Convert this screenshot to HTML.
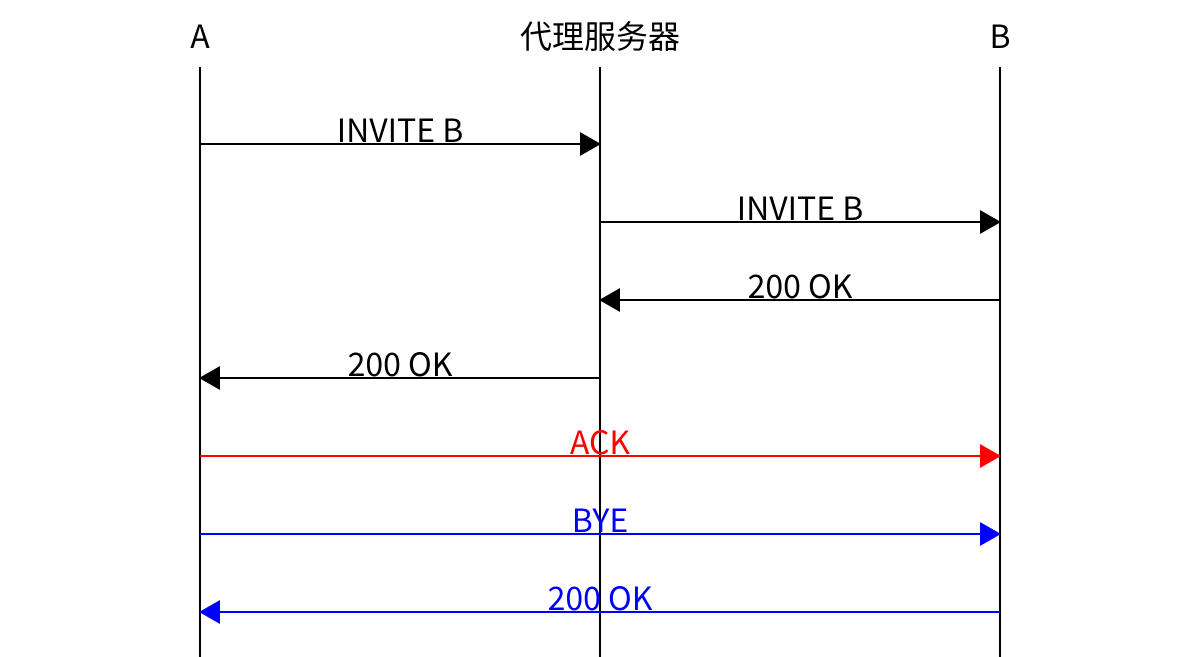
<!DOCTYPE html>
<html><head><meta charset="utf-8"><style>
html,body{margin:0;padding:0;background:#fff;width:1200px;height:657px;overflow:hidden}
text{font-family:"Noto Sans CJK SC","Liberation Sans",sans-serif;font-size:32px;text-anchor:middle}
</style></head><body>
<svg width="1200" height="657" viewBox="0 0 1200 657" xmlns="http://www.w3.org/2000/svg">
<g stroke="#000" stroke-width="2">
<line x1="200" y1="67" x2="200" y2="657"/>
<line x1="600" y1="67" x2="600" y2="657"/>
<line x1="1000" y1="67" x2="1000" y2="657"/>
</g>
<text x="200" y="48">A</text>
<text x="600" y="48">代理服务器</text>
<text x="1000" y="48">B</text>

<g stroke-width="2">
<line x1="200" y1="144" x2="582" y2="144" stroke="#000"/>
<polygon points="580,132 601,144 580,156" fill="#000"/>
<text x="400" y="142">INVITE B</text>

<line x1="600" y1="222" x2="982" y2="222" stroke="#000"/>
<polygon points="980,210 1001,222 980,234" fill="#000"/>
<text x="800" y="220">INVITE B</text>

<line x1="618" y1="300" x2="1000" y2="300" stroke="#000"/>
<polygon points="620,288 599,300 620,312" fill="#000"/>
<text x="800" y="298">200 OK</text>

<line x1="218" y1="378" x2="600" y2="378" stroke="#000"/>
<polygon points="220,366 199,378 220,390" fill="#000"/>
<text x="400" y="376">200 OK</text>

<line x1="200" y1="456" x2="982" y2="456" stroke="#f00"/>
<polygon points="980,444 1001,456 980,468" fill="#f00"/>
<text x="600" y="454" fill="#f00">ACK</text>

<line x1="200" y1="534" x2="982" y2="534" stroke="#00f"/>
<polygon points="980,522 1001,534 980,546" fill="#00f"/>
<text x="600" y="532" fill="#00f">BYE</text>

<line x1="218" y1="612" x2="1000" y2="612" stroke="#00f"/>
<polygon points="220,600 199,612 220,624" fill="#00f"/>
<text x="600" y="610" fill="#00f">200 OK</text>
</g>
</svg>
</body></html>
